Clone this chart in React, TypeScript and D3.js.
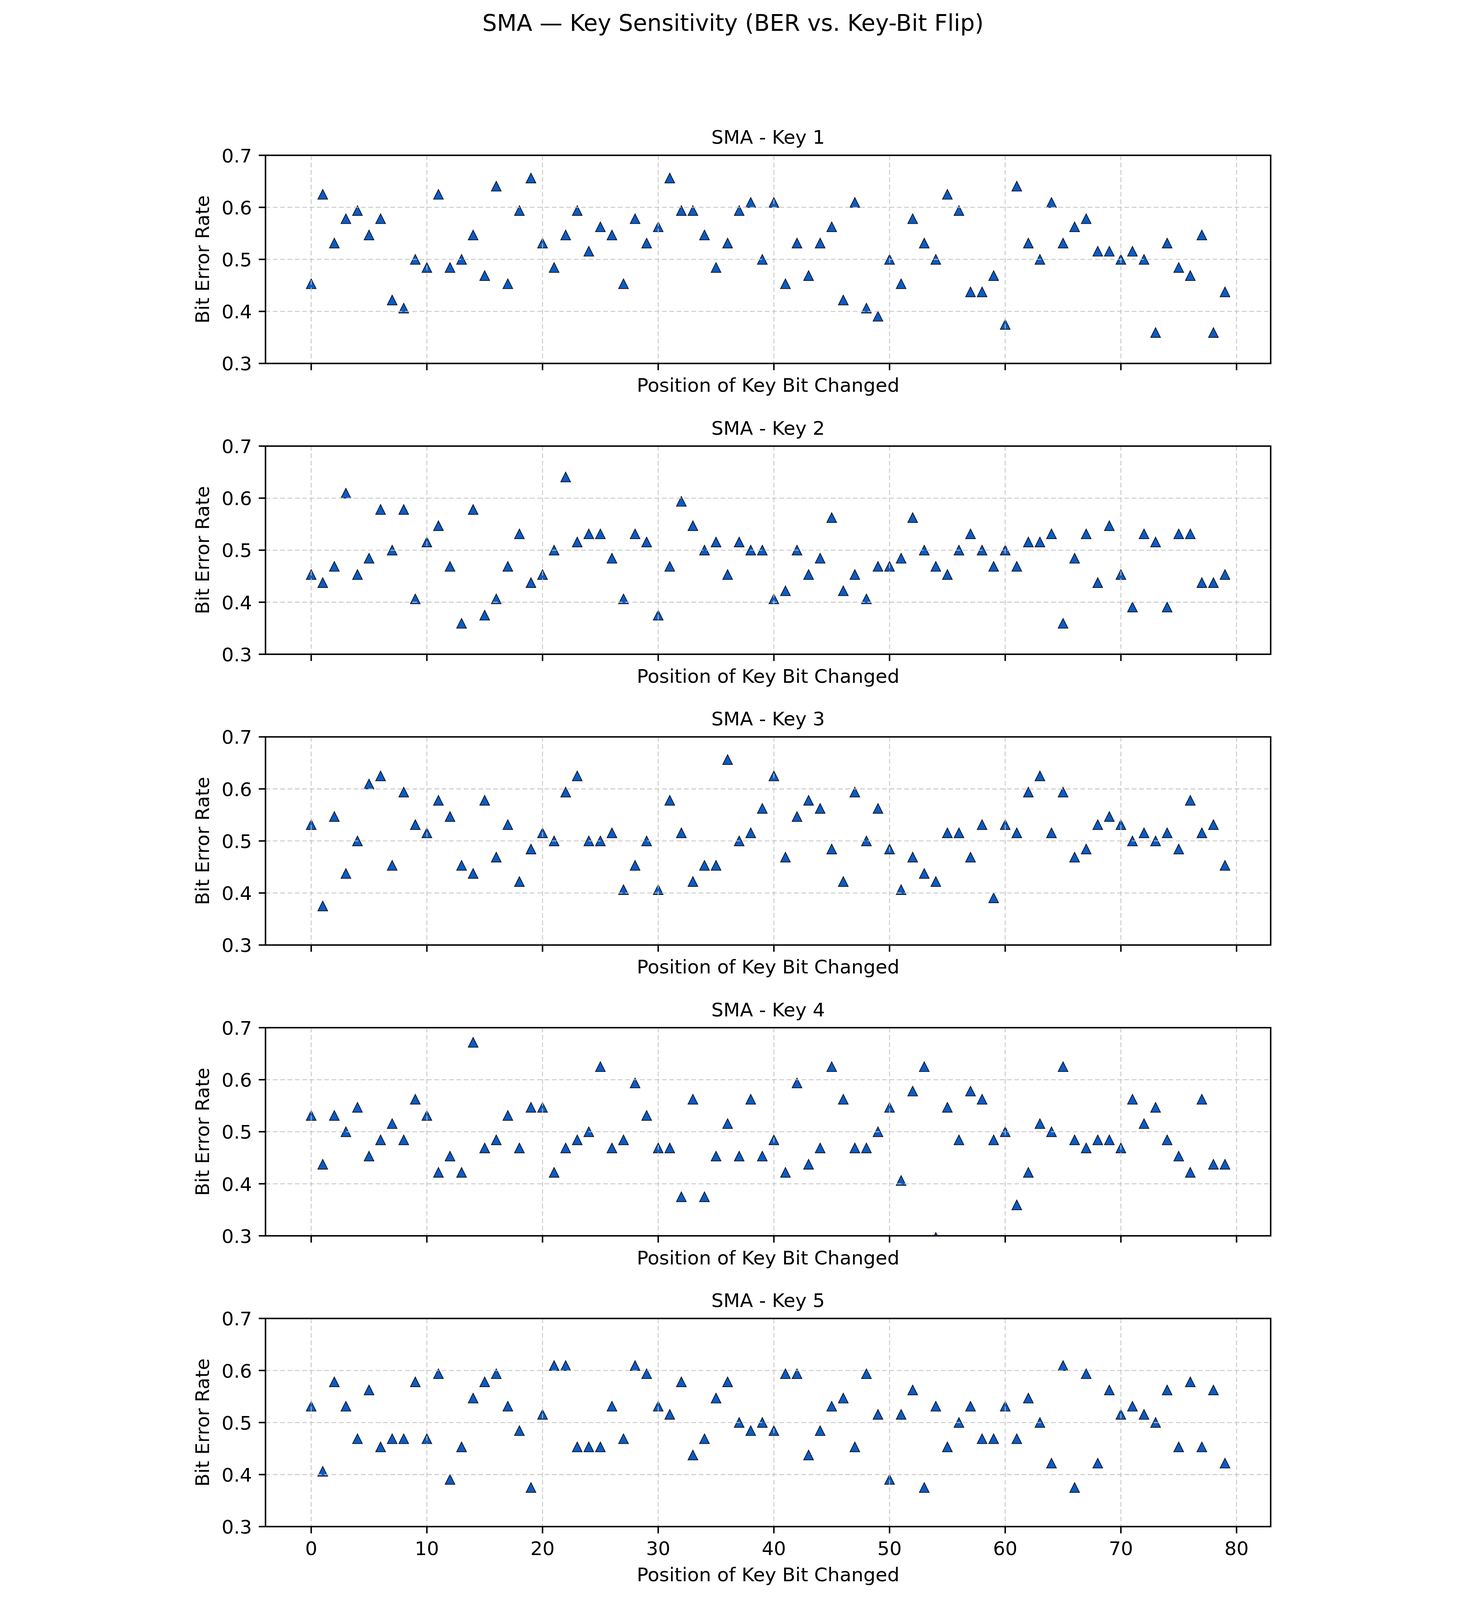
import React, { useEffect } from 'react';
import * as d3 from 'd3';

// ---------- data ----------
const keyTitles = ['SMA - Key 1', 'SMA - Key 2', 'SMA - Key 3', 'SMA - Key 4', 'SMA - Key 5'];
const suptitle = 'SMA \u2014 Key Sensitivity (BER vs. Key-Bit Flip)';
const xLabel = 'Position of Key Bit Changed';
const yLabel = 'Bit Error Rate';
const xTicks = [0, 10, 20, 30, 40, 50, 60, 70, 80];
const yTicks = [0.3, 0.4, 0.5, 0.6, 0.7];
const yTickLabels = ['0.3', '0.4', '0.5', '0.6', '0.7'];

const key1 = [0.4531,0.625,0.5313,0.5781,0.5938,0.5469,0.5781,0.4219,0.4063,0.5,
 0.4844,0.625,0.4844,0.5,0.5469,0.4688,0.6406,0.4531,0.5938,0.6563,
 0.5313,0.4844,0.5469,0.5938,0.5156,0.5625,0.5469,0.4531,0.5781,0.5313,
 0.5625,0.6563,0.5938,0.5938,0.5469,0.4844,0.5313,0.5938,0.6094,0.5,
 0.6094,0.4531,0.5313,0.4688,0.5313,0.5625,0.4219,0.6094,0.4063,0.3906,
 0.5,0.4531,0.5781,0.5313,0.5,0.625,0.5938,0.4375,0.4375,0.4688,
 0.375,0.6406,0.5313,0.5,0.6094,0.5313,0.5625,0.5781,0.5156,0.5156,
 0.5,0.5156,0.5,0.3594,0.5313,0.4844,0.4688,0.5469,0.3594,0.4375];

const key2 = [0.4531,0.4375,0.4688,0.6094,0.4531,0.4844,0.5781,0.5,0.5781,0.4063,
 0.5156,0.5469,0.4688,0.3594,0.5781,0.375,0.4063,0.4688,0.5313,0.4375,
 0.4531,0.5,0.6406,0.5156,0.5313,0.5313,0.4844,0.4063,0.5313,0.5156,
 0.375,0.4688,0.5938,0.5469,0.5,0.5156,0.4531,0.5156,0.5,0.5,
 0.4063,0.4219,0.5,0.4531,0.4844,0.5625,0.4219,0.4531,0.4063,0.4688,
 0.4688,0.4844,0.5625,0.5,0.4688,0.4531,0.5,0.5313,0.5,0.4688,
 0.5,0.4688,0.5156,0.5156,0.5313,0.3594,0.4844,0.5313,0.4375,0.5469,
 0.4531,0.3906,0.5313,0.5156,0.3906,0.5313,0.5313,0.4375,0.4375,0.4531];

const key3 = [0.5313,0.375,0.5469,0.4375,0.5,0.6094,0.625,0.4531,0.5938,0.5313,
 0.5156,0.5781,0.5469,0.4531,0.4375,0.5781,0.4688,0.5313,0.4219,0.4844,
 0.5156,0.5,0.5938,0.625,0.5,0.5,0.5156,0.4063,0.4531,0.5,
 0.4063,0.5781,0.5156,0.4219,0.4531,0.4531,0.6563,0.5,0.5156,0.5625,
 0.625,0.4688,0.5469,0.5781,0.5625,0.4844,0.4219,0.5938,0.5,0.5625,
 0.4844,0.4063,0.4688,0.4375,0.4219,0.5156,0.5156,0.4688,0.5313,0.3906,
 0.5313,0.5156,0.5938,0.625,0.5156,0.5938,0.4688,0.4844,0.5313,0.5469,
 0.5313,0.5,0.5156,0.5,0.5156,0.4844,0.5781,0.5156,0.5313,0.4531];

const key4 = [0.5313,0.4375,0.5313,0.5,0.5469,0.4531,0.4844,0.5156,0.4844,0.5625,
 0.5313,0.4219,0.4531,0.4219,0.6719,0.4688,0.4844,0.5313,0.4688,0.5469,
 0.5469,0.4219,0.4688,0.4844,0.5,0.625,0.4688,0.4844,0.5938,0.5313,
 0.4688,0.4688,0.375,0.5625,0.375,0.4531,0.5156,0.4531,0.5625,0.4531,
 0.4844,0.4219,0.5938,0.4375,0.4688,0.625,0.5625,0.4688,0.4688,0.5,
 0.5469,0.4063,0.5781,0.625,0.2969,0.5469,0.4844,0.5781,0.5625,0.4844,
 0.5,0.3594,0.4219,0.5156,0.5,0.625,0.4844,0.4688,0.4844,0.4844,
 0.4688,0.5625,0.5156,0.5469,0.4844,0.4531,0.4219,0.5625,0.4375,0.4375];

const key5 = [0.5313,0.4063,0.5781,0.5313,0.4688,0.5625,0.4531,0.4688,0.4688,0.5781,
 0.4688,0.5938,0.3906,0.4531,0.5469,0.5781,0.5938,0.5313,0.4844,0.375,
 0.5156,0.6094,0.6094,0.4531,0.4531,0.4531,0.5313,0.4688,0.6094,0.5938,
 0.5313,0.5156,0.5781,0.4375,0.4688,0.5469,0.5781,0.5,0.4844,0.5,
 0.4844,0.5938,0.5938,0.4375,0.4844,0.5313,0.5469,0.4531,0.5938,0.5156,
 0.3906,0.5156,0.5625,0.375,0.5313,0.4531,0.5,0.5313,0.4688,0.4688,
 0.5313,0.4688,0.5469,0.5,0.4219,0.6094,0.375,0.5938,0.4219,0.5625,
 0.5156,0.5313,0.5156,0.5,0.5625,0.4531,0.5781,0.4531,0.5625,0.4219];

const keys = [key1, key2, key3, key4, key5];

// ---------- layout (in reference pixels; the svg viewBox scales it to the window) ----------
const W = 3752;
const H = 5450;
const AX_L = 284;
const AX_R = 3707;
const AX_H = 709;
const PANEL_TOP0 = 529;
const PANEL_STEP = 990.5;
const FONT = "'DejaVu Sans', Verdana, sans-serif";
const FS = 65;
const FS_SUP = 78;
const TICK_LEN = 23;
const LW = 5;
const MARK = 16.5;
const FILL = '#0b5cc5';
const EDGE = '#0d1526';
const GRID = '#c4c4c4';

const xScale = d3.scaleLinear().domain([-3.95, 82.95]).range([AX_L, AX_R]);

const triPath = `M0,${-MARK}L${MARK},${MARK}L${-MARK},${MARK}Z`;

function Panel({ idx }: { idx: number }) {
  const top = PANEL_TOP0 + idx * PANEL_STEP;
  const bottom = top + AX_H;
  const y = d3.scaleLinear().domain([0.3, 0.7]).range([bottom, top]);
  const vals = keys[idx];
  const last = idx === keys.length - 1;
  const clipId = `clip-${idx}`;
  return (
    <g>
      <defs>
        <clipPath id={clipId}>
          <rect x={AX_L} y={top} width={AX_R - AX_L} height={AX_H} />
        </clipPath>
      </defs>
      <rect x={AX_L} y={top} width={AX_R - AX_L} height={AX_H} fill="#ffffff" />
      <g clipPath={`url(#${clipId})`}>
        {vals.map((v, i) => (
          <path
            key={i}
            d={triPath}
            transform={`translate(${xScale(i)},${y(v)})`}
            fill={FILL}
            stroke={EDGE}
            strokeWidth={2.6}
            strokeLinejoin="miter"
          />
        ))}
        {xTicks.map((t) => (
          <line key={`gx${t}`} x1={xScale(t)} x2={xScale(t)} y1={top} y2={bottom}
            stroke={GRID} strokeWidth={3.4} strokeDasharray="16 9" strokeOpacity={0.85} />
        ))}
        {yTicks.map((t) => (
          <line key={`gy${t}`} x1={AX_L} x2={AX_R} y1={y(t)} y2={y(t)}
            stroke={GRID} strokeWidth={3.4} strokeDasharray="16 9" strokeOpacity={0.85} />
        ))}
      </g>
      <rect x={AX_L} y={top} width={AX_R - AX_L} height={AX_H} fill="none" stroke="#000" strokeWidth={LW} />
      {xTicks.map((t) => (
        <line key={`tx${t}`} x1={xScale(t)} x2={xScale(t)} y1={bottom} y2={bottom + TICK_LEN} stroke="#000" strokeWidth={LW} />
      ))}
      {yTicks.map((t, k) => (
        <g key={`ty${t}`}>
          <line x1={AX_L - TICK_LEN} x2={AX_L} y1={y(t)} y2={y(t)} stroke="#000" strokeWidth={LW} />
          <text x={AX_L - TICK_LEN - 23} y={y(t) + 24} textAnchor="end" fontSize={FS} fontFamily={FONT} fill="#000">
            {yTickLabels[k]}
          </text>
        </g>
      ))}
      {last && xTicks.map((t) => (
        <text key={`lx${t}`} x={xScale(t)} y={bottom + 97} textAnchor="middle" fontSize={FS} fontFamily={FONT} fill="#000">
          {String(t)}
        </text>
      ))}
      <text x={(AX_L + AX_R) / 2} y={top - 39} textAnchor="middle" fontSize={FS} fontFamily={FONT} fill="#000">
        {keyTitles[idx]}
      </text>
      <text x={(AX_L + AX_R) / 2} y={bottom + (last ? 186 : 97)} textAnchor="middle" fontSize={FS} fontFamily={FONT} fill="#000">
        {xLabel}
      </text>
      <text transform={`translate(92,${(top + bottom) / 2}) rotate(-90)`} textAnchor="middle" fontSize={FS} fontFamily={FONT} fill="#000">
        {yLabel}
      </text>
    </g>
  );
}

export default function App() {
  useEffect(() => {
    document.body.style.margin = '0';
    document.body.style.overflow = 'hidden';
    document.body.style.background = '#fff';
  }, []);
  return (
    <svg
      viewBox={`0 0 ${W} ${H}`}
      preserveAspectRatio="xMidYMin meet"
      style={{ display: 'block', width: '100vw', height: '100vh', maxHeight: `${H}px`, background: '#fff' }}
      xmlns="http://www.w3.org/2000/svg"
    >
      <rect x={0} y={0} width={W} height={H} fill="#fff" />
      <text x={W / 2} y={105} textAnchor="middle" fontSize={FS_SUP} fontFamily={FONT} fill="#000">
        {suptitle}
      </text>
      {keys.map((_, i) => (
        <Panel key={i} idx={i} />
      ))}
    </svg>
  );
}
